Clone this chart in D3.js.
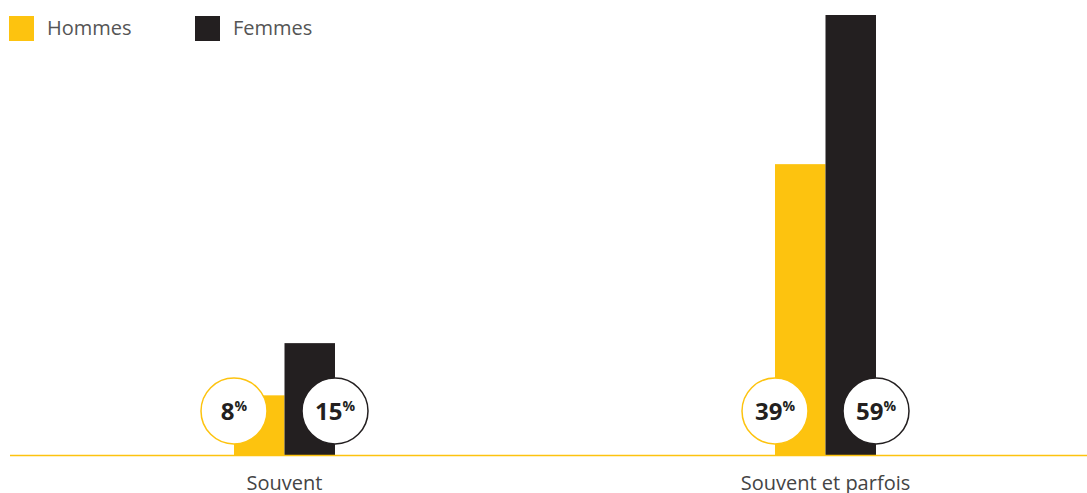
<!DOCTYPE html>
<html lang="fr">
<head>
	<meta charset="utf-8">
	<title>Souvent / Souvent et parfois</title>
	<script src="https://cdn.jsdelivr.net/npm/d3@7"></script>
	<style>
		body { margin: 0; background: #fff; }
		svg { display: block; font-family: "Open Sans", sans-serif; }
	</style>
</head>
<body>
	<script>
		var categories = ["Souvent", "Souvent et parfois"];
		var series = ["Hommes", "Femmes"];
		var hommes = [8, 39];
		var femmes = [15, 59];

		var colors = { Hommes: "#fdc30f", Femmes: "#231f20" };

		var w = 1087, h = 493;
		var baseY = 455;

		var svg = d3.select("body").append("svg")
			.attr("width", w)
			.attr("height", h);

		// scales
		var x0 = d3.scaleBand().domain(categories).range([14, 1096]);
		var x1 = d3.scaleBand().domain(series).range([-50.5, 50.5]);
		var y = d3.scaleLinear().domain([0, 59]).range([baseY, 15]);

		var rows = categories.map(function(c, i) {
			return { cat: c, values: [
				{ key: "Hommes", v: hommes[i] },
				{ key: "Femmes", v: femmes[i] }
			] };
		});

		var groups = svg.selectAll("g.cat")
			.data(rows)
			.enter().append("g")
			.attr("class", "cat")
			.attr("transform", function(d) {
				return "translate(" + (x0(d.cat) + x0.bandwidth() / 2) + ",0)";
			});

		groups.selectAll("rect")
			.data(function(d) { return d.values; })
			.enter().append("rect")
			.attr("x", function(d) { return x1(d.key); })
			.attr("y", function(d) { return y(d.v); })
			.attr("width", x1.bandwidth())
			.attr("height", function(d) { return baseY - y(d.v); })
			.attr("fill", function(d) { return colors[d.key]; });

		// baseline
		svg.append("line")
			.attr("x1", 10).attr("x2", w)
			.attr("y1", baseY + 0.5).attr("y2", baseY + 0.5)
			.attr("stroke", colors.Hommes)
			.attr("stroke-width", 1.5);

		// value bubbles: Hommes at left edge, Femmes at right edge
		var bubbles = groups.selectAll("g.bubble")
			.data(function(d) { return d.values; })
			.enter().append("g")
			.attr("class", "bubble")
			.attr("transform", function(d) {
				var cx = d.key === "Hommes" ? x1(d.key) : x1(d.key) + x1.bandwidth();
				return "translate(" + cx + ",411)";
			});

		bubbles.append("circle")
			.attr("r", 33)
			.attr("fill", "#fff")
			.attr("stroke", function(d) { return colors[d.key]; })
			.attr("stroke-width", 1.5);

		var lbl = bubbles.append("text")
			.attr("text-anchor", "middle")
			.attr("y", 9)
			.attr("fill", "#231f20")
			.attr("font-weight", "bold");
		lbl.append("tspan")
			.attr("font-size", "24px")
			.text(function(d) { return d.v; });
		lbl.append("tspan")
			.attr("font-size", "14px")
			.attr("dy", -9)
			.text("%");

		// category labels
		svg.selectAll("text.cat")
			.data(categories)
			.enter().append("text")
			.attr("class", "cat")
			.attr("x", function(d) { return x0(d) + x0.bandwidth() / 2; })
			.attr("y", 490)
			.attr("text-anchor", "middle")
			.attr("font-size", "20px")
			.attr("fill", "#444")
			.text(function(d) { return d; });

		// legend
		var legendX = [9, 195];
		var legend = svg.selectAll("g.legend")
			.data(series)
			.enter().append("g")
			.attr("class", "legend")
			.attr("transform", function(d, i) { return "translate(" + legendX[i] + ",16)"; });

		legend.append("rect")
			.attr("width", 25).attr("height", 25)
			.attr("fill", function(d) { return colors[d]; });

		legend.append("text")
			.attr("x", 38)
			.attr("y", 19)
			.attr("font-size", "20px")
			.attr("fill", "#555")
			.text(function(d) { return d; });
	</script>
</body>
</html>
